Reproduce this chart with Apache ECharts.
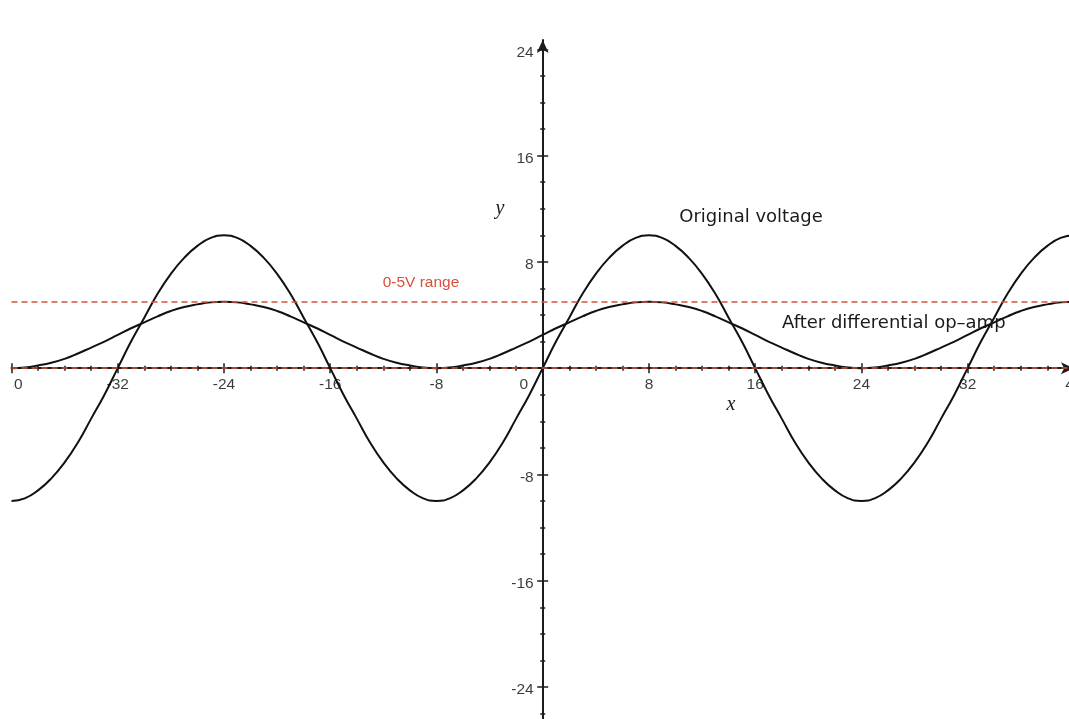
<!DOCTYPE html>
<html>
<head>
<meta charset="utf-8">
<title>Original voltage vs. differential op-amp output</title>
<script src="https://cdn.jsdelivr.net/npm/echarts@6/dist/echarts.min.js"></script>
<style>
  html, body { margin: 0; padding: 0; background: #fff; overflow: hidden; }
  #chart { width: 1100px; height: 740px; }
</style>
</head>
<body>
<div id="chart"></div>
<script>
// Sample positions along the x axis
const xValues = [
  -40, -39, -38, -37, -36, -35, -34, -33, -32, -31, -30, -29, -28, -27, -26, -25, -24, -23, -22, -21,
  -20, -19, -18, -17, -16, -15, -14, -13, -12, -11, -10, -9, -8, -7, -6, -5, -4, -3, -2, -1,
  0, 1, 2, 3, 4, 5, 6, 7, 8, 9, 10, 11, 12, 13, 14, 15, 16, 17, 18, 19,
  20, 21, 22, 23, 24, 25, 26, 27, 28, 29, 30, 31, 32, 33, 34, 35, 36, 37, 38, 39, 40
];

// Original voltage (swings between -10 and 10)
const originalVoltage = [
  -10, -9.8, -9.2, -8.3, -7.1, -5.6, -3.8, -2.0, 0, 2.0, 3.8, 5.6, 7.1, 8.3, 9.2, 9.8, 10, 9.8, 9.2, 8.3,
  7.1, 5.6, 3.8, 2.0, 0, -2.0, -3.8, -5.6, -7.1, -8.3, -9.2, -9.8, -10, -9.8, -9.2, -8.3, -7.1, -5.6, -3.8, -2.0,
  0, 2.0, 3.8, 5.6, 7.1, 8.3, 9.2, 9.8, 10, 9.8, 9.2, 8.3, 7.1, 5.6, 3.8, 2.0, 0, -2.0, -3.8, -5.6,
  -7.1, -8.3, -9.2, -9.8, -10, -9.8, -9.2, -8.3, -7.1, -5.6, -3.8, -2.0, 0, 2.0, 3.8, 5.6, 7.1, 8.3, 9.2, 9.8, 10
];

// Output after the differential op-amp (kept inside 0..5)
const afterOpAmp = [
  0, 0.05, 0.2, 0.4, 0.7, 1.1, 1.55, 2.0, 2.5, 3.0, 3.45, 3.9, 4.3, 4.6, 4.8, 4.95, 5, 4.95, 4.8, 4.6,
  4.3, 3.9, 3.45, 3.0, 2.5, 2.0, 1.55, 1.1, 0.7, 0.4, 0.2, 0.05, 0, 0.05, 0.2, 0.4, 0.7, 1.1, 1.55, 2.0,
  2.5, 3.0, 3.45, 3.9, 4.3, 4.6, 4.8, 4.95, 5, 4.95, 4.8, 4.6, 4.3, 3.9, 3.45, 3.0, 2.5, 2.0, 1.55, 1.1,
  0.7, 0.4, 0.2, 0.05, 0, 0.05, 0.2, 0.4, 0.7, 1.1, 1.55, 2.0, 2.5, 3.0, 3.45, 3.9, 4.3, 4.6, 4.8, 4.95, 5
];

// Bounds of the allowed 0-5V range
const rangeBounds = [0, 5];

// Axis ticks and labels
const xTickLabels = [-40, -32, -24, -16, -8, 0, 8, 16, 24, 32, 40];
const yTickLabels = [-24, -16, -8, 8, 16, 24];
const yMajorTicks = [-24, -16, -8, 8, 16, 24];
const yMinorTicks = [-26, -22, -20, -18, -14, -12, -10, -6, -4, -2, 2, 4, 6, 10, 12, 14, 18, 20, 22];

const X_MIN = -40, X_MAX = 40, X_STEP = 8;
const Y_MIN = -26.6, Y_MAX = 24.7;

const axisColor = '#1c1c1c';
const redColor = '#d6513c';
const tickFont = { fontFamily: '"Liberation Sans", Arial, sans-serif', fontSize: 15.5, color: '#0a0a0a' };

const toPairs = (xs, ys) => xs.map((x, i) => [x, ys[i]]);

function xAxisDef(position, withLine) {
  return {
    type: 'value', position, min: X_MIN, max: X_MAX, interval: X_STEP,
    axisLine: {
      show: true, onZero: true, onZeroAxisIndex: 0,
      symbol: withLine ? ['none', 'arrow'] : 'none', symbolSize: [9, 13],
      lineStyle: { color: axisColor, width: 2, opacity: withLine ? 1 : 0 }
    },
    axisTick: { show: true, inside: false, length: 5, lineStyle: { color: axisColor, width: 1.5 } },
    minorTick: { show: true, splitNumber: 4, length: 2.5, lineStyle: { color: axisColor, width: 1.5 } },
    axisLabel: { show: false },
    splitLine: { show: false }, minorSplitLine: { show: false }
  };
}

function yAxisDef(position, ticks, len, withLine) {
  return {
    type: 'value', position, min: Y_MIN, max: Y_MAX,
    axisLine: {
      show: true, onZero: true, onZeroAxisIndex: 0,
      symbol: withLine ? ['none', 'arrow'] : 'none', symbolSize: [9, 13],
      lineStyle: { color: axisColor, width: 2, opacity: withLine ? 1 : 0 }
    },
    axisTick: { show: true, inside: false, length: len, customValues: ticks,
                lineStyle: { color: axisColor, width: 1.5 } },
    axisLabel: { show: false },
    splitLine: { show: false }
  };
}

// Tick labels sit beside the crossing axes, so they are drawn as text-only points
function tickLabelSeries(name, points, position, offsetFor) {
  return {
    name, type: 'scatter', symbol: 'circle', symbolSize: 0, clip: false, silent: true, z: 6,
    itemStyle: { color: 'transparent' },
    data: points.map(p => ({ value: p, label: { offset: offsetFor(p) } })),
    label: {
      show: true, position, distance: 9, ...tickFont,
      formatter: p => String(position === 'bottom' ? p.value[0] : p.value[1])
    }
  };
}

const chart = echarts.init(document.getElementById('chart'), null, { renderer: 'canvas' });

chart.setOption({
  animation: false,
  backgroundColor: '#fff',
  grid: { left: 11.5, top: 40, width: 1062.4, height: 681.5, containLabel: false, outerBoundsMode: 'none', show: false },
  xAxis: [ xAxisDef('bottom', true), xAxisDef('top', false) ],
  yAxis: [
    yAxisDef('left', yMajorTicks, 5.5, true),
    yAxisDef('right', yMajorTicks, 5.5, false),
    yAxisDef('left', yMinorTicks, 2.5, false),
    yAxisDef('right', yMinorTicks, 2.5, false)
  ],
  series: [
    {
      name: '0-5V range', type: 'line', data: [], silent: true, z: 3,
      markLine: {
        silent: true, symbol: 'none', animation: false,
        label: { show: false },
        lineStyle: { color: redColor, type: [6, 4], width: 1.6 },
        data: rangeBounds.map(v => ({ yAxis: v }))
      }
    },
    {
      name: 'Original voltage', type: 'line', smooth: true, showSymbol: false, z: 4,
      lineStyle: { color: '#111', width: 2 },
      data: toPairs(xValues, originalVoltage)
    },
    {
      name: 'After differential op-amp', type: 'line', smooth: true, showSymbol: false, z: 4,
      lineStyle: { color: '#111', width: 2 },
      data: toPairs(xValues, afterOpAmp)
    },
    tickLabelSeries('x ticks', xTickLabels.map(v => [v, 0]), 'bottom',
                    p => (p[0] === 0 ? [-19, 0] : [0, 0])),
    tickLabelSeries('y ticks', yTickLabels.map(v => [0, v]), 'left', () => [0, 3])
  ],
  graphic: [
    // plot window edge clips the leftmost tick label
    { type: 'rect', left: 0, top: 374, shape: { width: 13.5, height: 26 }, style: { fill: '#fff' }, z: 100 },
    { type: 'text', x: 751, y: 217, style: { text: 'Original voltage', fill: '#1a1a1a',
        font: '18px "DejaVu Sans", sans-serif', align: 'center', verticalAlign: 'middle' }, z: 50 },
    { type: 'text', x: 782, y: 323, style: { text: 'After differential op–amp', fill: '#1a1a1a',
        font: '18px "DejaVu Sans", sans-serif', align: 'left', verticalAlign: 'middle' }, z: 50 },
    { type: 'text', x: 421, y: 283, style: { text: '0-5V range', fill: redColor,
        font: '15.5px "Liberation Sans", Arial, sans-serif', align: 'center', verticalAlign: 'middle' }, z: 50 },
    { type: 'text', x: 500, y: 209, style: { text: 'y', fill: '#1a1a1a',
        font: 'italic 20px "Liberation Serif", "DejaVu Serif", serif', align: 'center', verticalAlign: 'middle' }, z: 50 },
    { type: 'text', x: 731, y: 405, style: { text: 'x', fill: '#1a1a1a',
        font: 'italic 20px "Liberation Serif", "DejaVu Serif", serif', align: 'center', verticalAlign: 'middle' }, z: 50 }
  ]
});
</script>
</body>
</html>
